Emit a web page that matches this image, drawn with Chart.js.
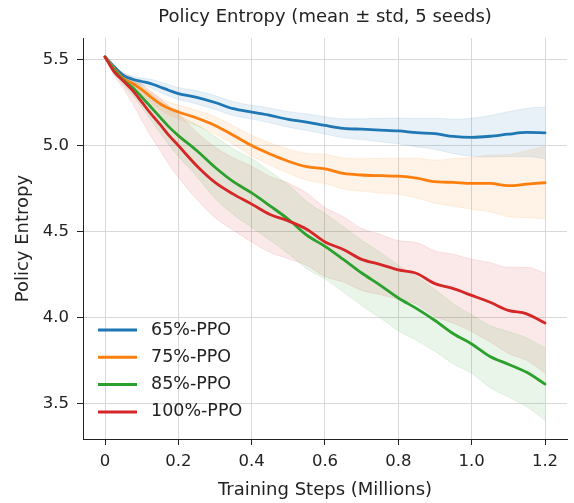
<!DOCTYPE html>
<html>
<head>
<meta charset="utf-8">
<script src="https://cdn.jsdelivr.net/npm/chart.js@4.4.1/dist/chart.umd.min.js"></script>
<style>
  html, body { margin: 0; padding: 0; background: #ffffff; }
  #wrap { width: 574px; height: 503px; }
</style>
</head>
<body>
<div id="wrap"><canvas id="c" width="574" height="503"></canvas></div>
<script>
// ---- data ----
const steps = [0, 0.025, 0.05, 0.075, 0.1, 0.125, 0.15, 0.175, 0.2, 0.25, 0.3, 0.35, 0.4, 0.45, 0.5, 0.55, 0.6, 0.65, 0.7, 0.75, 0.8, 0.85, 0.9, 0.95, 1.0, 1.05, 1.1, 1.15, 1.2];

const mean65 = [5.515, 5.457, 5.408, 5.385, 5.372, 5.360, 5.340, 5.320, 5.302, 5.280, 5.250, 5.214, 5.194, 5.175, 5.152, 5.136, 5.117, 5.100, 5.095, 5.090, 5.085, 5.075, 5.069, 5.053, 5.048, 5.054, 5.066, 5.076, 5.074];
const std65  = [0, 0.008, 0.014, 0.018, 0.020, 0.025, 0.030, 0.033, 0.035, 0.038, 0.040, 0.040, 0.040, 0.043, 0.045, 0.048, 0.050, 0.055, 0.060, 0.068, 0.075, 0.083, 0.090, 0.100, 0.110, 0.120, 0.130, 0.140, 0.150];

const mean75 = [5.515, 5.447, 5.389, 5.360, 5.325, 5.282, 5.243, 5.215, 5.195, 5.160, 5.117, 5.060, 5.000, 4.951, 4.909, 4.877, 4.864, 4.838, 4.829, 4.825, 4.822, 4.811, 4.790, 4.786, 4.780, 4.780, 4.767, 4.776, 4.784];
const std75  = [0, 0.008, 0.015, 0.020, 0.025, 0.030, 0.035, 0.038, 0.040, 0.045, 0.050, 0.055, 0.060, 0.065, 0.070, 0.078, 0.085, 0.090, 0.095, 0.100, 0.105, 0.115, 0.125, 0.138, 0.150, 0.165, 0.180, 0.195, 0.210];

const mean85 = [5.515, 5.440, 5.380, 5.337, 5.282, 5.224, 5.165, 5.107, 5.058, 4.971, 4.874, 4.790, 4.725, 4.650, 4.572, 4.480, 4.415, 4.339, 4.260, 4.190, 4.115, 4.053, 3.984, 3.907, 3.848, 3.775, 3.730, 3.683, 3.615];
const std85  = [0, 0.015, 0.030, 0.045, 0.060, 0.075, 0.090, 0.105, 0.120, 0.150, 0.180, 0.190, 0.200, 0.200, 0.200, 0.195, 0.190, 0.190, 0.190, 0.190, 0.190, 0.185, 0.180, 0.175, 0.170, 0.180, 0.190, 0.200, 0.210];

const mean100 = [5.515, 5.428, 5.375, 5.320, 5.253, 5.185, 5.123, 5.058, 5.000, 4.883, 4.786, 4.718, 4.660, 4.600, 4.562, 4.514, 4.440, 4.397, 4.339, 4.310, 4.278, 4.257, 4.198, 4.169, 4.130, 4.090, 4.043, 4.023, 3.969];
const std100  = [0, 0.020, 0.045, 0.075, 0.105, 0.130, 0.150, 0.170, 0.185, 0.195, 0.205, 0.210, 0.220, 0.220, 0.220, 0.210, 0.200, 0.190, 0.180, 0.175, 0.170, 0.180, 0.190, 0.200, 0.210, 0.230, 0.250, 0.270, 0.290];

const seriesLabels = ['65%-PPO', '75%-PPO', '85%-PPO', '100%-PPO'];
const xTickValues = [0, 0.2, 0.4, 0.6, 0.8, 1.0, 1.2];
const xTickLabels = ['0', '0.2', '0.4', '0.6', '0.8', '1.0', '1.2'];
const yTickValues = [3.5, 4.0, 4.5, 5.0, 5.5];
const yTickLabels = ['3.5', '4.0', '4.5', '5.0', '5.5'];

// ---- styling ----
const colors = ['#1f77b4', '#ff7f0e', '#2ca02c', '#d62728'];
const bandColors = ['rgba(31,119,180,0.10)', 'rgba(255,127,14,0.10)', 'rgba(44,160,44,0.10)', 'rgba(214,39,40,0.10)'];
const FONT = '"DejaVu Sans", "Liberation Sans", sans-serif';

const means = [mean65, mean75, mean85, mean100];
const stds = [std65, std75, std85, std100];

const datasets = [];
means.forEach((m, i) => {
  const s = stds[i];
  datasets.push({
    label: seriesLabels[i] + ' upper',
    data: steps.map((x, k) => ({ x: x, y: m[k] + s[k] })),
    borderColor: bandColors[i], backgroundColor: bandColors[i],
    borderWidth: 1, pointRadius: 0, fill: '+1', order: 20 + i,
    cubicInterpolationMode: 'monotone'
  });
  datasets.push({
    label: seriesLabels[i] + ' lower',
    data: steps.map((x, k) => ({ x: x, y: m[k] - s[k] })),
    borderColor: bandColors[i], backgroundColor: bandColors[i],
    borderWidth: 1, pointRadius: 0, fill: false, order: 20 + i,
    cubicInterpolationMode: 'monotone'
  });
});
means.forEach((m, i) => {
  datasets.push({
    label: seriesLabels[i],
    data: steps.map((x, k) => ({ x: x, y: m[k] })),
    borderColor: colors[i], backgroundColor: colors[i],
    borderWidth: 2.8, pointRadius: 0, fill: false, order: 3 - i,
    borderJoinStyle: 'round', borderCapStyle: 'round',
    cubicInterpolationMode: 'monotone'
  });
});

function labelFor(values, labels, v) {
  const i = values.findIndex(t => Math.abs(t - v) < 1e-9);
  return i >= 0 ? labels[i] : '';
}

const legendPlugin = {
  id: 'mplLegend',
  afterDraw(chart) {
    const ctx = chart.ctx, a = chart.chartArea;
    const x0 = a.left + 15, lineLen = 39, textX = x0 + 53;
    const y0 = a.bottom - 109, dy = 27.3;
    ctx.save();
    ctx.font = '17.5px ' + FONT;
    ctx.textBaseline = 'middle';
    ctx.textAlign = 'left';
    ctx.fillStyle = '#222222';
    seriesLabels.forEach((lab, i) => {
      const y = y0 + i * dy;
      ctx.strokeStyle = colors[i];
      ctx.lineWidth = 3;
      ctx.lineCap = 'butt';
      ctx.beginPath(); ctx.moveTo(x0, y); ctx.lineTo(x0 + lineLen, y); ctx.stroke();
      ctx.fillText(lab, textX, y);
    });
    ctx.restore();
  }
};

Chart.defaults.font.family = FONT;
Chart.defaults.color = '#222222';

new Chart(document.getElementById('c'), {
  type: 'line',
  data: { datasets: datasets },
  plugins: [legendPlugin],
  options: {
    responsive: false,
    animation: false,
    devicePixelRatio: 1,
    layout: { padding: { left: 0, right: 7, top: 0, bottom: 0 } },
    plugins: {
      legend: { display: false },
      tooltip: { enabled: false },
      title: {
        display: true,
        text: 'Policy Entropy (mean ± std, 5 seeds)',
        fullSize: false,
        color: '#222222',
        font: { size: 18, weight: 'normal', family: FONT, lineHeight: 1.2 },
        padding: { top: 6.5, bottom: 10 }
      }
    },
    scales: {
      x: {
        type: 'linear',
        min: -0.06, max: 1.26,
        afterBuildTicks: (scale) => { scale.ticks = xTickValues.map(v => ({ value: v })); },
        afterFit: (scale) => { scale.height = 64; },
        ticks: {
          includeBounds: false,
          autoSkip: false, maxRotation: 0,
          padding: 7,
          color: '#222222',
          font: { size: 16.5, family: FONT },
          callback: (v) => labelFor(xTickValues, xTickLabels, v)
        },
        grid: { color: '#d9d9d9', lineWidth: 1, tickLength: 6, tickColor: '#222222', tickWidth: 1 },
        border: { display: true, color: '#222222', width: 1 },
        title: {
          display: true, text: 'Training Steps (Millions)', color: '#222222',
          font: { size: 18, family: FONT, lineHeight: 1.2 },
          padding: { top: 0, bottom: 2 }
        }
      },
      y: {
        type: 'linear',
        min: 3.296, max: 5.624,
        afterBuildTicks: (scale) => { scale.ticks = yTickValues.map(v => ({ value: v })); },
        afterFit: (scale) => { scale.width = 83; },
        ticks: {
          includeBounds: false,
          autoSkip: false,
          padding: 8,
          color: '#222222',
          font: { size: 16.5, family: FONT },
          callback: (v) => labelFor(yTickValues, yTickLabels, v)
        },
        grid: { color: '#d9d9d9', lineWidth: 1, tickLength: 6, tickColor: '#222222', tickWidth: 1 },
        border: { display: true, color: '#222222', width: 1 },
        title: {
          display: true, text: 'Policy Entropy', color: '#222222',
          font: { size: 18, family: FONT, lineHeight: 1.2 },
          padding: { top: 13, bottom: 0 }
        }
      }
    }
  }
});
</script>
</body>
</html>
